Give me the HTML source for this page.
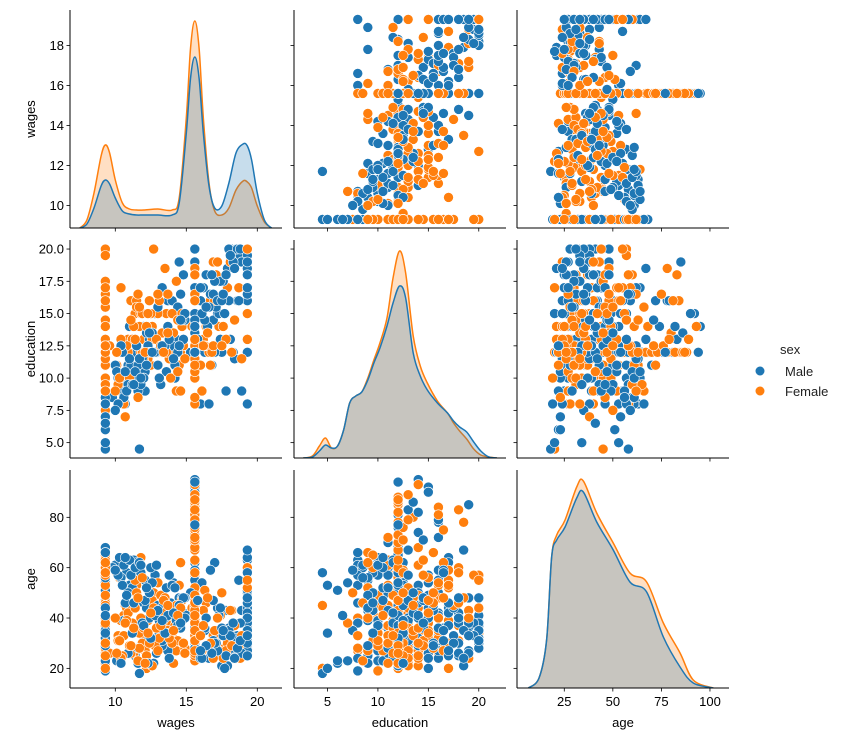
<!DOCTYPE html>
<html><head><meta charset="utf-8">
<style>
html,body{margin:0;padding:0;background:#fff;}
svg{display:block;font-family:"Liberation Sans","DejaVu Sans",sans-serif;}
</style></head>
<body>
<svg id="fig" width="847" height="741" viewBox="0 0 847 741"></svg>
<script>
// ---------- data: individuals ----------
const maleWages=[9.3,15.6,19.3,12.1,15.6,9.3,19.3,15.6,11.4,17.2,
15.6,9.3,19.3,13.5,15.6,16.8,9.3,19.3,15.6,10.5,
9.3,15.6,19.3,14.2,15.6,18.1,9.3,19.3,15.6,12.8,
15.6,9.3,19.3,11.0,15.6,17.8,9.3,19.3,15.6,13.9,
9.3,15.6,19.3,16.3,15.6,10.2,9.3,19.3,15.6,14.8,
15.6,9.3,19.3,12.5,15.6,18.6,9.3,19.3,15.6,11.7,
9.3,15.6,19.3,13.1,15.6,17.5,9.3,19.3,15.6,16.0,
15.6,9.3,19.3,10.8,15.6,14.5,9.3,19.3,15.6,18.9,
9.3,15.6,19.3,12.3,15.6,13.7,9.3,19.3,15.6,17.0,
15.6,9.3,19.3,11.2,15.6,16.6,9.3,19.3,15.6,14.0,
9.3,15.6,19.3,18.3,15.6,10.0,9.3,19.3,15.6,12.0,
15.6,9.3,19.3,15.0,15.6,17.4,9.3,19.3,15.6,13.3,
9.3,15.6,19.3,11.6,15.6,18.0,9.3,19.3,15.6,16.1,
15.6,9.3,19.3,14.4,15.6,12.9,9.3,19.3,15.6,10.6,
10.1,13.3,16.9,11.8,14.6,18.4,12.6,9.8,17.6,15.3,
13.0,10.9,18.8,14.1,16.5,11.3,12.4,17.9,15.6,9.3,
19.3,14.9,10.4,13.8,16.2,12.2,18.2,11.5,15.6,17.3,
9.3,13.6,19.3,10.7,14.3,16.7,12.7,15.6,18.5,11.1,
13.2,19.3,9.3,15.6,17.1,10.3,14.7,12.9,16.4,18.7,
11.9,15.6,13.4,9.3,19.3,17.7,10.6,14.0,16.0,12.1,
15.6,18.0,11.6,13.9,9.3,19.3,16.9,10.9,14.4,12.3,
17.4,15.6,13.1,18.9,11.0,9.3,19.3,16.3,14.8,12.8,
10.2,15.6,17.8,13.5,11.4,19.3,9.3,16.6,14.2,18.3,
12.5,15.6,10.8,17.2,13.7,19.3,9.3,11.7,16.1,14.5,
18.6,15.6,12.0,10.5,17.0,13.0,19.3,9.3,15.8,11.2,
14.9,15.6,16.8,12.4,18.1,10.0,19.3,9.3,13.3,17.5,
11.8,15.6,14.1,16.4,12.6,18.8,19.3,9.3,10.4,13.8,
17.6,15.6,11.3,14.6,16.0,12.2,19.3,9.3,18.4,10.7];
const maleEducation=[12,16,20,9,12,14,8,18,12,15,
13,10,20,12,16,11,12,17,14,8,
12,19,16,10,12,13,6,20,12,15,
11,12,18,14,12,9,12,16,20,13,
8,12,17,12,15,10,12,20,13,18,
14,12,19,11,12,16,9,12,15,4.5,
12,13,20,10,17,12,14,18,12,8,
16,12,15,12,11,19,12,20,13,9,
7,14,18,12,12,16,10,17,15,12,
12,11,20,13,14,8,12,19,12,16,
9,15,17,12,13,11,12,18,20,14,
12,10,16,12,15,13,5,20,12,17,
11,14,18,9,12,16,12,19,13,15,
12,8,20,15.5,11,12,14,17,12,10,
10.5,12.5,14.5,9.5,16.5,11.5,13.5,8.5,17.5,12,
15.5,11,19.5,12.5,14,10,13,18.5,16,7.5,
12,14.5,9,11.5,17,13.5,20,12.5,19,15,
5,10.5,18,8,13,16.5,12,14,20,11,
9.5,17,6,12.5,15.5,10,14.5,12,18,16,
11.5,13,12,9,19.5,15,8.5,12.5,16,10.5,
14,20,11,13.5,4.5,18.5,16.5,9.5,12,12.5,
17.5,15,10,19,11.5,7,20,14.5,13,12,
8,16,18,12.5,10.5,17,6,15.5,11,19,
12,13.5,9,16,14,18.5,8.5,11.5,15,12.5,
20,14.5,10,12,17.5,11,16.5,5,13,9.5,
15,12,18,13.5,19.5,7.5,17,9,12.5,16,
10,14,11.5,15.5,12,20,18,8,12.5,13,
16.5,12,9.5,14.5,17,11,19,6.5,18.5,10.5];
const maleAge=[35,42,28,55,31,47,63,38,25,44,
52,19,33,40,72,29,58,45,36,61,
24,39,50,27,88,34,22,41,48,57,
30,66,37,53,26,43,20,59,32,46,
38,28,64,35,49,23,54,31,67,42,
27,45,36,60,81,33,25,51,40,18,
56,29,44,34,62,21,47,39,30,53,
41,32,26,58,37,48,65,35,28,43,
23,50,38,31,76,27,57,44,33,62,
45,36,29,52,40,24,68,34,47,31,
39,55,42,26,35,61,49,30,37,46,
28,63,33,41,92,25,53,38,44,29,
50,34,40,22,59,36,45,27,31,54,
37,19,48,43,70,61,32,26,58,39,
23,31,47,58,36,27,42,60,33,50,
45,26,38,54,29,63,40,21,78,35,
30,48,56,24,37,44,28,62,85,41,
34,52,25,46,39,59,22,95,32,57,
43,27,51,36,30,64,48,26,40,55,
38,83,45,29,33,20,61,53,24,47,
74,35,28,42,58,67,31,50,37,22,
44,90,39,26,63,54,30,36,48,41,
57,79,25,34,60,46,23,29,52,38,
32,86,49,27,41,35,56,62,24,45,
28,71,37,53,30,43,58,20,47,34,
40,94,26,50,33,59,25,44,39,36,
61,82,42,29,54,31,48,66,22,57,
35,77,46,38,27,52,33,41,24,64];
const femaleWages=[15.6,9.3,15.6,12.4,9.3,15.6,19.3,10.7,15.6,13.6,
9.3,15.6,11.3,15.6,9.3,17.1,15.6,19.3,9.3,14.1,
15.6,9.3,12.7,15.6,9.3,16.4,15.6,10.1,9.3,18.2,
15.6,9.3,13.0,15.6,19.3,11.8,15.6,9.3,14.7,15.6,
9.3,15.6,10.4,15.6,9.3,17.7,15.6,19.3,12.2,9.3,
15.6,9.3,13.8,15.6,11.1,9.3,15.6,16.9,19.3,15.6,
9.3,15.6,12.6,9.3,15.6,14.3,10.9,15.6,9.3,18.5,
15.6,9.3,11.5,15.6,19.3,13.4,15.6,9.3,16.2,15.6,
9.3,15.6,12.0,9.3,15.6,10.3,15.6,19.3,14.9,9.3,
15.6,9.3,13.2,15.6,11.9,9.3,15.6,17.3,15.6,9.3,
15.6,19.3,10.6,15.6,9.3,12.9,15.6,9.3,15.4,18.8,
9.3,15.6,11.4,15.6,9.3,14.6,19.3,15.6,12.5,9.3,
15.6,9.3,16.7,15.6,10.2,9.3,15.6,13.3,19.3,15.6,
9.3,15.6,11.7,15.6,9.3,17.9,15.6,12.1,9.3,14.0,
9.6,12.3,15.6,14.4,10.8,16.6,9.3,13.7,15.6,11.6,
17.4,15.6,9.3,12.8,14.2,15.6,10.5,18.1,9.3,13.1,
15.6,11.2,16.1,9.3,14.8,15.6,12.0,17.6,9.3,10.9,
15.6,13.9,9.3,16.8,11.8,15.6,14.5,9.3,12.6,18.4,
15.6,10.2,13.5,9.3,15.6,17.0,11.4,14.0,9.3,15.6,
12.2,16.3,9.3,15.6,10.6,13.3,18.7,9.3,15.6,14.7,
11.0,15.6,9.3,12.9,16.9,15.6,10.0,13.8,9.3,15.6,
17.8,11.5,15.6,9.3,14.3,12.4,15.6,19.3,9.3,10.8,
15.6,13.6,16.5,9.3,15.6,11.9,14.9,9.3,15.6,12.7,
18.2,15.6,9.3,10.4,13.2,15.6,16.0,9.3,11.7,15.6,
14.1,12.1,9.3,15.6,17.2,10.3,15.6,9.3,13.0,19.3,
15.6,11.3,14.6,9.3,15.6,16.7,12.5,9.3,15.6,10.7,
13.4,15.6,18.9,9.3,11.1,15.6,14.4,9.3,15.6,12.3,
17.5,9.3,15.6,10.1,13.7,15.6,19.3,9.3,16.2,11.6];
const femaleEducation=[12,13,12,16,9,12,17,10,12,15,
11,12,14,12,8,18,12,20,12,13,
12,4.5,12,16,10,14,12,11,13,19,
12,9,15,12,16,12,13,12,14,11,
8,12,17,12,12,15,13,18,12,10,
12,14,12,11,16,12,12,19,13,15,
12,10,14,12,12,9,13,12,17,20,
12,11,16,12,15,12,14,12,13,8,
9,12,13,12,14,12,11,16,12,12,
13,10,12,15,12,17,12,14,12,4.5,
12,18,12,13,11,12,16,12,14,19,
10,12,15,12,13,12,20,12,11,14,
12,8,16,12,12,13,15,12,18,12,
9,12,14,11,12,17,13,12,10,15,
12.5,11.5,13,14.5,10.5,12,9.5,16.5,12.5,8.5,
15,13.5,17,12,11,14,12.5,19,10,16,
12,13,9,15.5,12.5,18,11.5,14,7.5,12,
13.5,10,16.5,12,15,12.5,11,17.5,13,14.5,
12,9.5,18.5,12.5,10.5,16,13,12,15.5,11.5,
14,12.5,20,12,8,13.5,17,11,12.5,15,
10,12,16,13,12.5,14.5,9,11.5,19.5,12,
13,15.5,12.5,10,17.5,12,14,18,11,12.5,
16.5,12,13.5,9.5,12,15,11.5,12.5,14,20,
12,10.5,17,13,12.5,16,11,12,15.5,8.5,
13.5,12,14.5,12.5,19,10,12,11.5,16.5,13,
12.5,14,9,12,18.5,11,15,12.5,13,7,
12,16,11.5,12.5,14.5,13,10.5,17,12,15,
12.5,9,18,12,13.5,11,20,14,12.5,16.5];
const femaleAge=[34,27,41,30,52,36,29,45,23,38,
33,48,26,57,40,31,62,35,44,22,
37,20,50,28,39,46,32,58,25,43,
35,29,54,30,41,64,36,24,47,33,
27,85,39,31,55,28,42,37,20,49,
34,61,30,45,26,38,51,33,29,40,
23,36,47,32,78,27,44,35,59,31,
39,26,53,41,30,48,34,22,43,28,
66,37,31,46,25,56,33,40,28,36,
42,19,49,35,30,52,38,27,67,45,
32,60,41,26,37,29,48,35,44,24,
39,31,55,43,28,62,34,47,30,21,
36,58,27,40,33,46,90,38,25,42,
29,51,34,63,37,30,45,27,40,33,
26,39,52,31,44,28,60,35,47,23,
41,33,55,29,37,49,25,43,64,32,
70,38,27,46,30,58,36,24,50,42,
80,34,62,28,40,26,53,45,21,37,
88,31,48,59,27,35,44,30,66,39,
25,51,57,82,33,42,28,61,38,47,
29,73,54,36,24,63,40,32,57,43,
27,50,35,61,45,30,93,46,22,39,
75,34,48,65,31,56,26,38,68,44,
29,41,53,24,37,84,33,60,28,46,
35,22,57,76,40,31,86,49,27,52,
71,36,44,63,78,30,42,25,89,38,
47,81,33,58,29,79,41,20,87,34,
50,62,83,26,45,72,55,30,37,48];
// ---------- KDE curves (density in arbitrary units) ----------
const wagesGrid=[7.5,8.0,8.5,9.0,9.3,9.6,10.0,10.5,11.0,11.5,12,13,14,14.5,15,15.3,15.6,15.9,16.2,16.6,17,17.5,18,18.5,19,19.3,19.6,20,20.5,21];
const wagesDensFemale=[0,8,35,72,83,75,48,25,19,18,18,19,18,30,110,180,207,180,110,45,17,13,20,38,47,46,40,22,6,0];
const wagesDensMale=[0,4,20,42,48,44,30,17,14,13,13,13,13,25,95,150,171,150,95,42,20,22,45,75,84,82,68,35,8,0];
const eduGrid=[2.6,3.5,4.2,4.8,5.4,6,6.6,7.2,7.8,8.4,9,9.6,10.2,10.9,11.5,12.15,12.75,13.5,14.2,14.9,15.9,16.9,17.5,18.1,18.8,19.5,20.2,21,21.8];
const eduDensFemale=[0,2,12,20,10,12,28,55,62,66,80,98,115,140,180,207,185,122,92,75,57,45,35,27,19,9,3,1,0];
const eduDensMale=[0,1,7,13,10,12,28,55,62,66,78,95,110,132,155,172,160,105,82,68,55,45,37,31,26,16,7,1,0];
const ageGrid=[6.5,12,15.9,18.5,21.1,25.4,31.4,34.8,41.7,50.2,58.8,67.4,76,84.6,91.4,101.7];
const ageDensFemale=[0,10,48,131,153,168,201,207,175,145,115,106,65,35,8,0];
const ageDensMale=[0,10,48,131,148,161,190,196,166,138,106,96,51,21,5,0];
// ---------- axes ----------
const varNames=["wages","education","age"];
const xDomains=[[6.81,21.74],[1.68,22.7],[0.66,109.8]];
const yDomains=[[8.87,19.77],[3.81,20.7],[12.2,98.8]];
const xTicks=[[10,15,20],[5,10,15,20],[25,50,75,100]];
const xTickLabels=[["10","15","20"],["5","10","15","20"],["25","50","75","100"]];
const yTicks=[[10,12,14,16,18],[5,7.5,10,12.5,15,17.5,20],[20,40,60,80]];
const yTickLabels=[["10","12","14","16","18"],["5.0","7.5","10.0","12.5","15.0","17.5","20.0"],["20","40","60","80"]];
const densDomain=[0,218];

const COLX=[70,294,517], ROWY=[10,240,470], PW=212, PH=218;
const BLUE="#1f77b4", ORANGE="#ff7f0e";
const NS="http://www.w3.org/2000/svg";
const svg=document.getElementById('fig');
function mk(tag,attrs,parent){const e=document.createElementNS(NS,tag);for(const k in attrs)e.setAttribute(k,attrs[k]);(parent||svg).appendChild(e);return e;}
function xs(c,v){const d=xDomains[c];return COLX[c]+(v-d[0])/(d[1]-d[0])*PW;}
function ys(r,v){const d=yDomains[r];return ROWY[r]+PH-(v-d[0])/(d[1]-d[0])*PH;}
function ds(r,v){return ROWY[r]+PH-(v-densDomain[0])/(densDomain[1]-densDomain[0])*PH;}
function smooth(pts){let d="M"+pts[0][0]+","+pts[0][1];for(let i=0;i<pts.length-1;i++){const p0=pts[Math.max(0,i-1)],p1=pts[i],p2=pts[i+1],p3=pts[Math.min(pts.length-1,i+2)];const c1=[p1[0]+(p2[0]-p0[0])/6,p1[1]+(p2[1]-p0[1])/6],c2=[p2[0]-(p3[0]-p1[0])/6,p2[1]-(p3[1]-p1[1])/6];d+=" C"+c1[0]+","+c1[1]+" "+c2[0]+","+c2[1]+" "+p2[0]+","+p2[1];}return d;}
const cols=[[maleWages,femaleWages],[maleEducation,femaleEducation],[maleAge,femaleAge]];
const kdes=[[wagesGrid,wagesDensMale,wagesDensFemale],[eduGrid,eduDensMale,eduDensFemale],[ageGrid,ageDensMale,ageDensFemale]];

for(let r=0;r<3;r++)for(let c=0;c<3;c++){
  const g=mk('g',{});
  
  
  const clipId='clip'+r+c;
  const cp=mk('clipPath',{id:clipId},g);mk('rect',{x:COLX[c],y:ROWY[r],width:PW,height:PH},cp);
  const plot=mk('g',{'clip-path':'url(#'+clipId+')'},g);
  if(r===c){
    const [grid,dm,df]=kdes[c];
    const series=[[df,ORANGE,'female'],[dm,BLUE,'male']];
    for(const [dens,col,nm] of series){
      const pts=grid.map((v,i)=>[xs(c,v),ds(r,dens[i])]);
      const line=smooth(pts);
      const base=ROWY[r]+PH;
      const f=mk('path',{d:line+" L"+pts[pts.length-1][0]+","+base+" L"+pts[0][0]+","+base+" Z",fill:col,'fill-opacity':0.25,stroke:'none'},plot);
      
      
      const l=mk('path',{d:line,fill:'none',stroke:col,'stroke-width':1.5},plot);
      
      
    }
  } else {
    const [xm,xf]=cols[c],[ym,yf]=cols[r];
    for(let i=0;i<xm.length;i++){
      const a=mk('circle',{cx:xs(c,xm[i]),cy:ys(r,ym[i]),r:5,fill:BLUE,stroke:'#fff','stroke-width':0.6},plot);
      
      
      const b=mk('circle',{cx:xs(c,xf[i]),cy:ys(r,yf[i]),r:5,fill:ORANGE,stroke:'#fff','stroke-width':0.6},plot);
      
      
    }
  }
  const x0=COLX[c],y1=ROWY[r]+PH;
  mk('line',{x1:x0,y1:ROWY[r],x2:x0,y2:y1,stroke:'#000','stroke-width':1},g);
  mk('line',{x1:x0,y1:y1,x2:x0+PW,y2:y1,stroke:'#000','stroke-width':1},g);
  xTicks[c].forEach((t,i)=>{const x=xs(c,t);mk('line',{x1:x,y1:y1,x2:x,y2:y1+3.5,stroke:'#000','stroke-width':0.8},g);
    if(r===2){const tx=mk('text',{x:x,y:y1+18,'font-size':13,'text-anchor':'middle',fill:'#000'},g);tx.textContent=xTickLabels[c][i];
      
      }});
  yTicks[r].forEach((t,i)=>{const y=ys(r,t);mk('line',{x1:x0,y1:y,x2:x0-3.5,y2:y,stroke:'#000','stroke-width':0.8},g);
    if(c===0){const ty=mk('text',{x:x0-6,y:y+4.5,'font-size':13,'text-anchor':'end',fill:'#000'},g);ty.textContent=yTickLabels[r][i];
      
      }});
  if(r===2){const xl=mk('text',{x:COLX[c]+PW/2,y:727,'font-size':13,'text-anchor':'middle',fill:'#000'},g);xl.textContent=varNames[c];
    
    }
  if(c===0){const cy=ROWY[r]+PH/2;const yl=mk('text',{x:0,y:0,'font-size':13,'text-anchor':'middle',fill:'#000',transform:'translate(35,'+cy+') rotate(-90)'},g);yl.textContent=varNames[r];
    
    }
}
const lg=mk('g',{});


const lt=mk('text',{x:780,y:354,'font-size':13,fill:'#222'},lg);lt.textContent='sex';
const legendLabels=["Male","Female"],legendColors=[BLUE,ORANGE];
legendLabels.forEach((lab,i)=>{const y=371+i*20;
  const m=mk('circle',{cx:760,cy:y,r:4.8,fill:legendColors[i],stroke:'#fff','stroke-width':0.6},lg);
  
  
  const t=mk('text',{x:785,y:y+5,'font-size':13,fill:'#222'},lg);t.textContent=lab;
  
  });
</script>
</body></html>
